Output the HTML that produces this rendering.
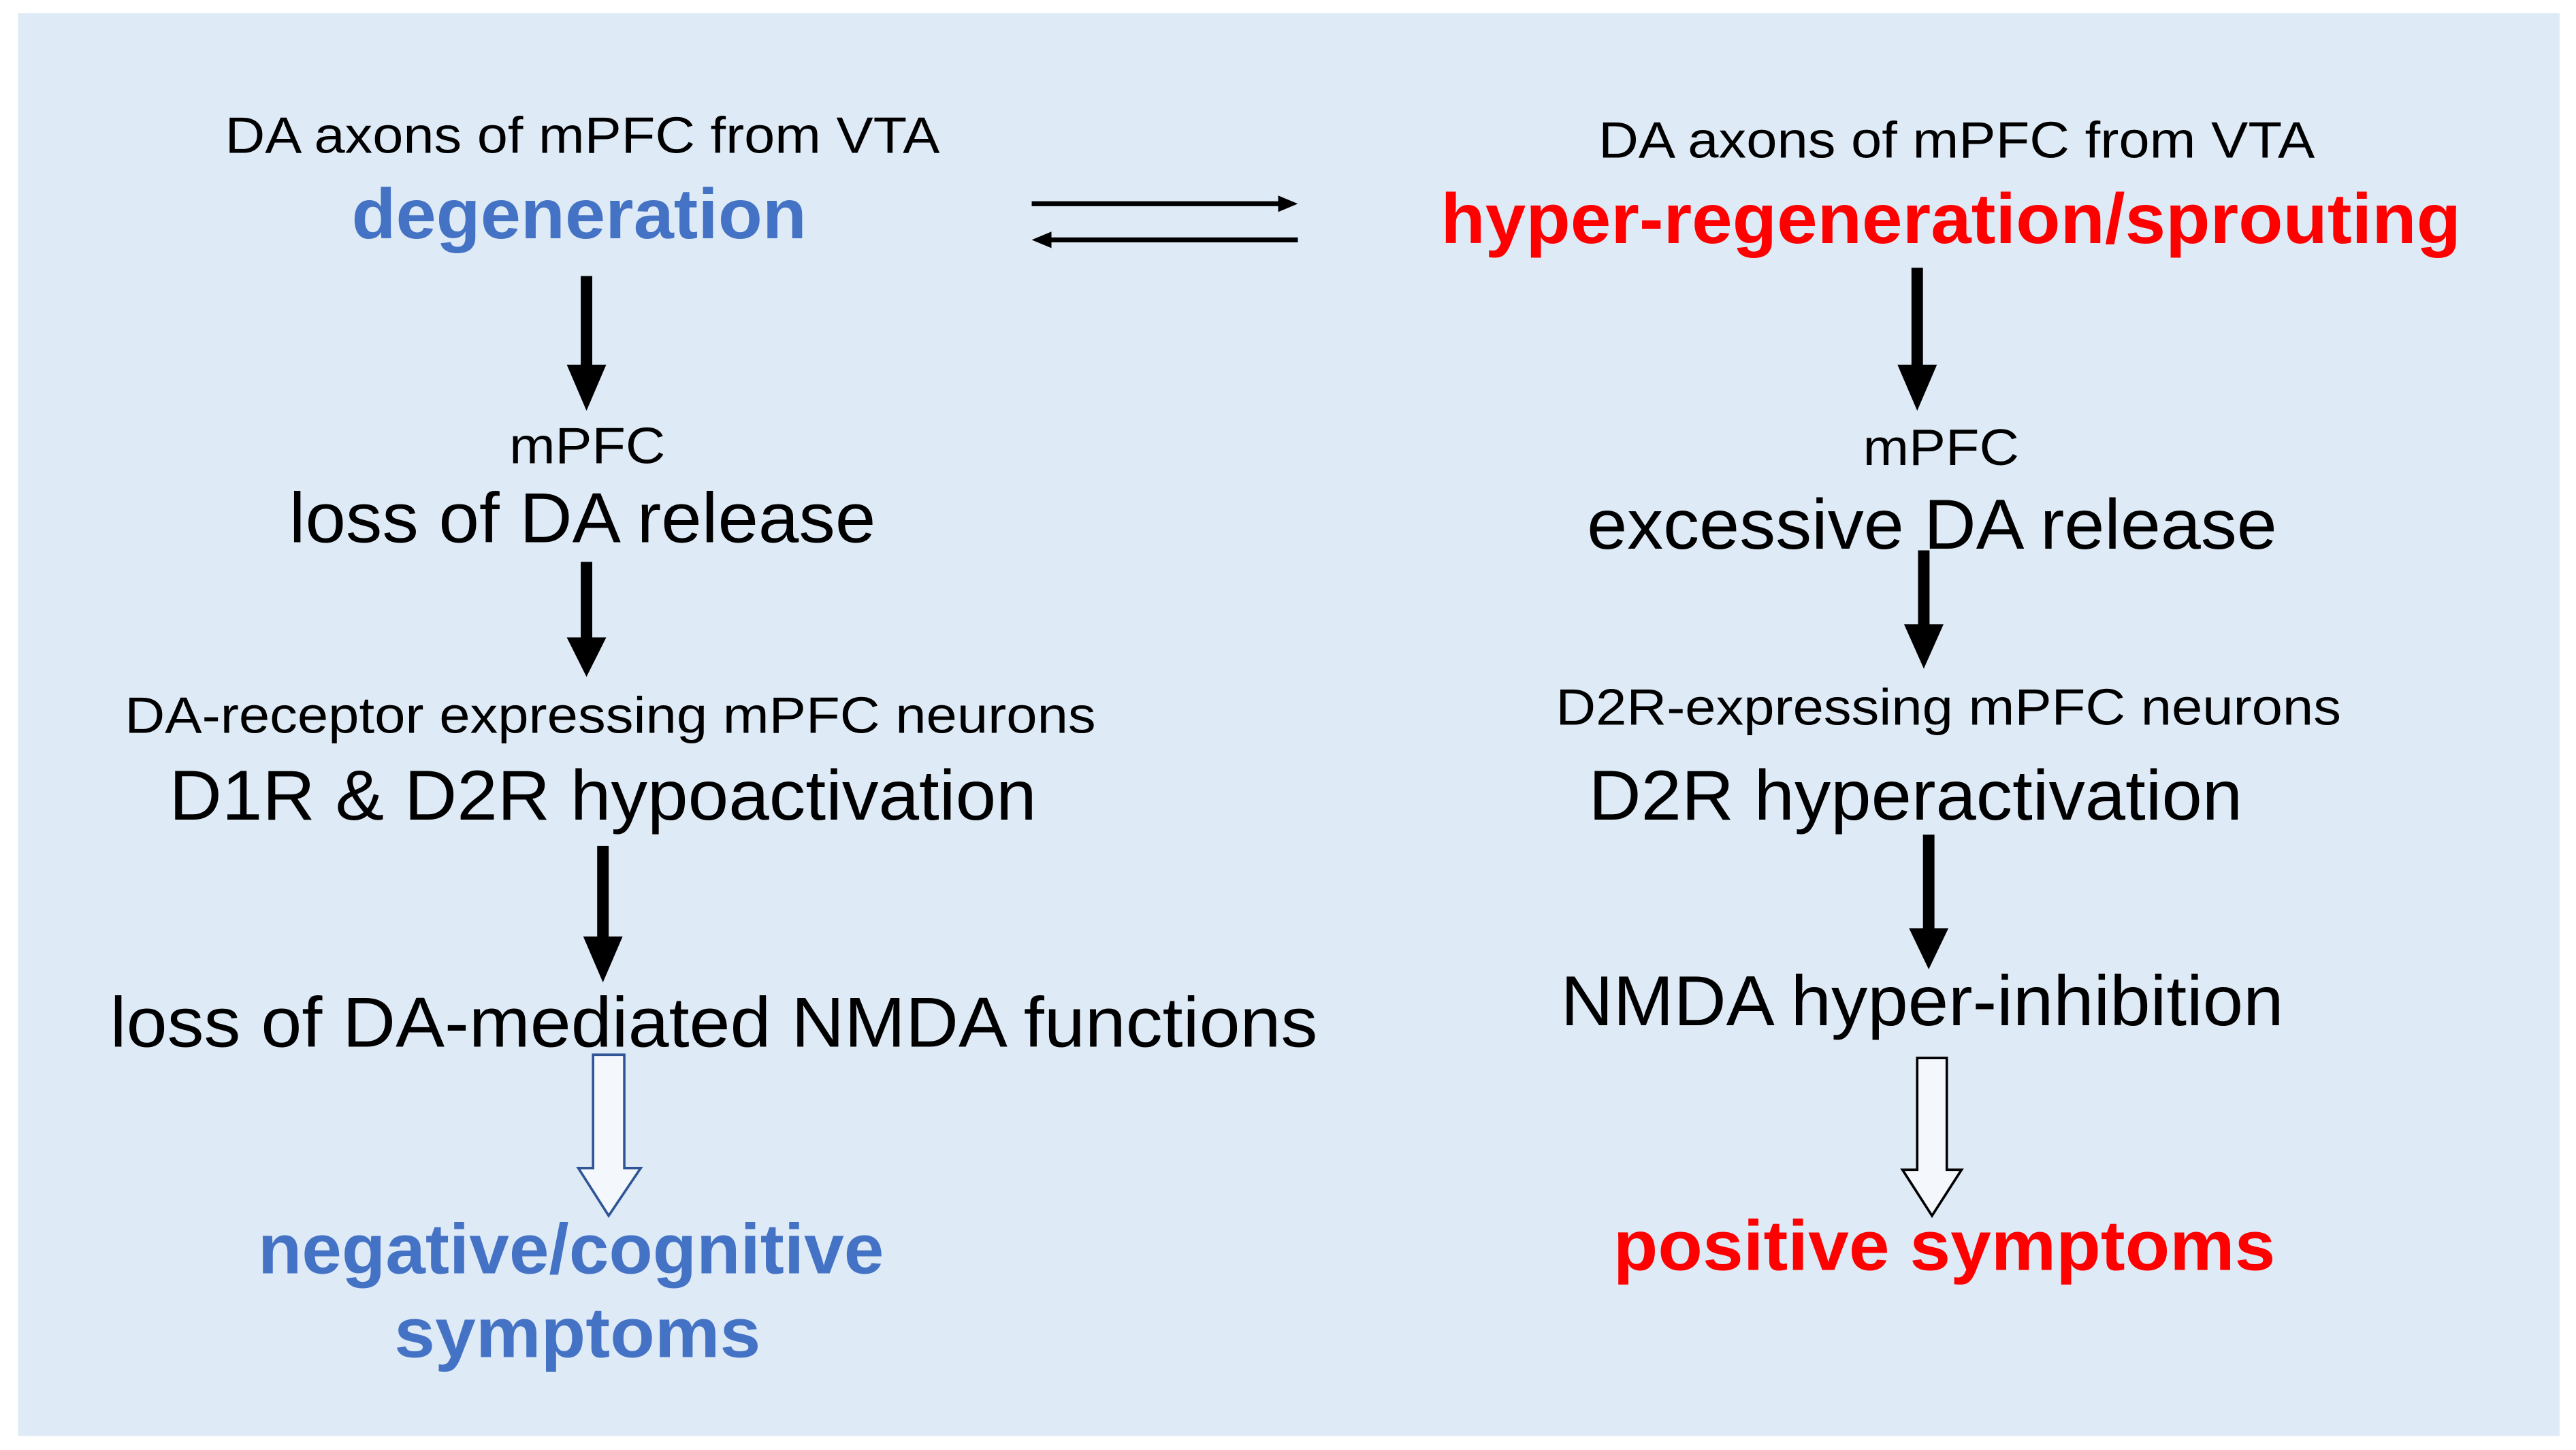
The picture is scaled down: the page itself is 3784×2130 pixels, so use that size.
<!DOCTYPE html>
<html><head><meta charset="utf-8"><style>
html,body{margin:0;padding:0;background:#fff;}
svg{display:block;}
text{font-family:"Liberation Sans",Arial,sans-serif;}
</style></head><body>
<svg width="3784" height="2130" viewBox="0 0 1568 882.6" xmlns="http://www.w3.org/2000/svg">
<rect x="11" y="8" width="1547" height="866" fill="#deeaf6"/>
<g fill="#000" font-size="31">
<text x="137" y="93" textLength="435" lengthAdjust="spacingAndGlyphs">DA axons of  mPFC from VTA</text>
<text x="310" y="282" textLength="95" lengthAdjust="spacingAndGlyphs">mPFC</text>
<text x="76" y="446" textLength="591" lengthAdjust="spacingAndGlyphs">DA-receptor expressing  mPFC neurons</text>
<text x="973" y="96" textLength="436" lengthAdjust="spacingAndGlyphs">DA axons of  mPFC from VTA</text>
<text x="1134" y="283" textLength="95" lengthAdjust="spacingAndGlyphs">mPFC</text>
<text x="947" y="441" textLength="478" lengthAdjust="spacingAndGlyphs">D2R-expressing  mPFC neurons</text>
</g>
<g fill="#000" font-size="43">
<text x="176" y="330" textLength="357" lengthAdjust="spacingAndGlyphs">loss of DA release</text>
<text x="103" y="499" textLength="528" lengthAdjust="spacingAndGlyphs">D1R &amp; D2R hypoactivation</text>
<text x="67" y="637" textLength="735" lengthAdjust="spacingAndGlyphs">loss of DA-mediated NMDA functions</text>
<text x="966" y="334" textLength="420" lengthAdjust="spacingAndGlyphs">excessive DA release</text>
<text x="967" y="499" textLength="398" lengthAdjust="spacingAndGlyphs">D2R hyperactivation</text>
<text x="950" y="624" textLength="440" lengthAdjust="spacingAndGlyphs">NMDA hyper-inhibition</text>
</g>
<g font-size="43" font-weight="bold">
<text x="214" y="145" fill="#4472c4" textLength="277" lengthAdjust="spacingAndGlyphs">degeneration</text>
<text x="877" y="148" fill="#ff0000" textLength="621" lengthAdjust="spacingAndGlyphs">hyper-regeneration/sprouting</text>
<text x="157" y="775" fill="#4472c4" textLength="381" lengthAdjust="spacingAndGlyphs">negative/cognitive</text>
<text x="240" y="826" fill="#4472c4" textLength="223" lengthAdjust="spacingAndGlyphs">symptoms</text>
<text x="982" y="773" fill="#ff0000" textLength="403" lengthAdjust="spacingAndGlyphs">positive symptoms</text>
</g>
<!-- black arrows -->
<g fill="#000">
<rect x="353.5" y="168" width="7" height="56"/><polygon points="345,222 369,222 357,250"/>
<rect x="353.5" y="342" width="7" height="48"/><polygon points="345,388 369,388 357,412"/>
<rect x="363.5" y="515" width="7" height="57"/><polygon points="355,570 379,570 367,598"/>
<rect x="1163.5" y="163" width="7" height="61"/><polygon points="1155,222 1179,222 1167,250"/>
<rect x="1167.5" y="335" width="7" height="47"/><polygon points="1159,380 1183,380 1171,407"/>
<rect x="1170.5" y="508" width="7" height="59"/><polygon points="1162,565 1186,565 1174,590"/>
</g>
<!-- hollow arrows -->
<polygon points="361,642 380,642 380,711 390,711 370.5,740 352,711 361,711" fill="#f4f8fc" stroke="#2f5597" stroke-width="1.5"/>
<polygon points="1167,644 1185,644 1185,712 1194,712 1176,740 1158,712 1167,712" fill="#f4f8fc" stroke="#000" stroke-width="1.5"/>
<!-- equilibrium arrows -->
<line x1="628" y1="124" x2="782" y2="124" stroke="#000" stroke-width="3"/>
<polygon points="778,119 790,124 778,129" fill="#000"/>
<line x1="636" y1="146" x2="790" y2="146" stroke="#000" stroke-width="3"/>
<polygon points="640,141 628,146 640,151" fill="#000"/>
</svg>
</body></html>
